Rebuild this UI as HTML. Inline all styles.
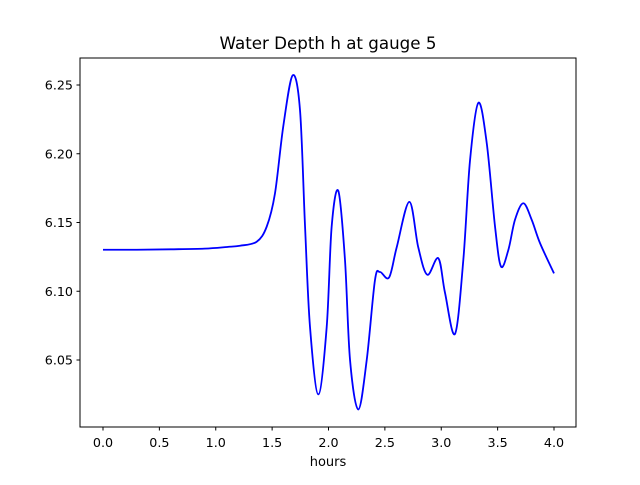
<!DOCTYPE html>
<html><head><meta charset="utf-8"><style>
body{margin:0;background:#fff;}
svg text{font-family:"DejaVu Sans","Liberation Sans",sans-serif;}
</style></head><body>
<svg id="chart" width="640" height="480" xmlns="http://www.w3.org/2000/svg">
<rect width="640" height="480" fill="#fff"/>
<text x="328" y="49" font-size="16.7" text-anchor="middle">Water Depth h at gauge 5</text>
<text x="328" y="466" font-size="13" text-anchor="middle">hours</text>
<g id="ticks"></g>
<path id="line" fill="none" stroke="#0000ff" stroke-width="1.8"/>
<rect x="80" y="58" width="496" height="369" fill="none" stroke="#000" stroke-width="1"/>
</svg>
<script>
const hours=[0,0.3,0.6,0.9,1.1,1.215,1.363,1.452,1.525,1.599,1.682,1.747,1.792,1.836,1.910,1.984,2.028,2.087,2.146,2.191,2.264,2.339,2.412,2.457,2.537,2.605,2.717,2.796,2.876,2.974,3.033,3.122,3.196,3.255,3.329,3.403,3.477,3.530,3.595,3.654,3.728,3.802,3.876,4.0];
const depth=[6.1302,6.1302,6.1305,6.131,6.1322,6.1331,6.136,6.147,6.171,6.220,6.257,6.232,6.147,6.074,6.025,6.074,6.147,6.173,6.123,6.050,6.014,6.050,6.108,6.114,6.110,6.132,6.165,6.132,6.112,6.124,6.099,6.069,6.123,6.195,6.237,6.208,6.147,6.118,6.130,6.152,6.164,6.152,6.135,6.113];
const xTicks=[0,0.5,1,1.5,2,2.5,3,3.5,4];
const xTickLabels=["0.0","0.5","1.0","1.5","2.0","2.5","3.0","3.5","4.0"];
const yTicks=[6.05,6.10,6.15,6.20,6.25];
const yTickLabels=["6.05","6.10","6.15","6.20","6.25"];
const X=h=>103+h*112.75;
const Y=v=>85+(6.25-v)*1375;
const NS="http://www.w3.org/2000/svg";
const g=document.getElementById('ticks');
function mk(t,a){const e=document.createElementNS(NS,t);for(const k in a)e.setAttribute(k,a[k]);g.appendChild(e);return e;}
xTicks.forEach((t,i)=>{
 const l=mk('line',{x1:X(t),x2:X(t),y1:427,y2:430.5,stroke:'#000'});
 
 
 const tx=mk('text',{x:X(t),y:447,'font-size':12.7,'text-anchor':'middle'});tx.textContent=xTickLabels[i];
 
 
});
yTicks.forEach((t,i)=>{
 const l=mk('line',{x1:76.5,x2:80,y1:Y(t),y2:Y(t),stroke:'#000'});
 
 
 const tx=mk('text',{x:73,y:Y(t)+4.5,'font-size':12.7,'text-anchor':'end'});tx.textContent=yTickLabels[i];
 
 
});
const P=hours.map((h,i)=>[X(h),Y(depth[i])]);
let d='M'+P[0][0]+','+P[0][1];
for(let i=0;i<P.length-1;i++){
 const p0=P[Math.max(0,i-1)],p1=P[i],p2=P[i+1],p3=P[Math.min(P.length-1,i+2)];
 const c1=[p1[0]+(p2[0]-p0[0])/6,p1[1]+(p2[1]-p0[1])/6];
 const c2=[p2[0]-(p3[0]-p1[0])/6,p2[1]-(p3[1]-p1[1])/6];
 d+=`C${c1[0]},${c1[1]} ${c2[0]},${c2[1]} ${p2[0]},${p2[1]}`;
}
document.getElementById('line').setAttribute('d',d);
</script>
</body></html>
